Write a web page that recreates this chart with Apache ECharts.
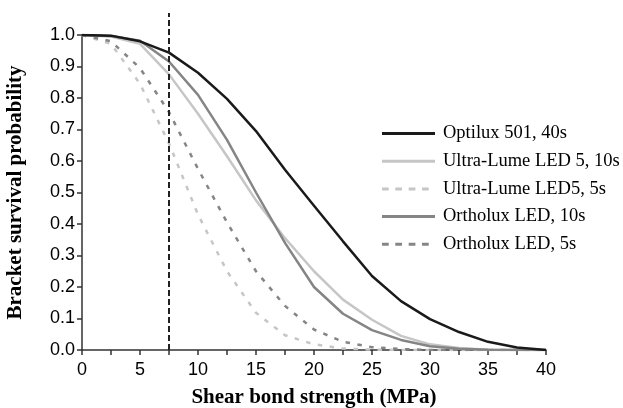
<!DOCTYPE html>
<html>
<head>
<meta charset="utf-8">
<script src="https://cdn.jsdelivr.net/npm/echarts@6/dist/echarts.min.js"></script>
<style>html,body{margin:0;padding:0;background:#fff;}#c{width:623px;height:408px;}</style>
</head>
<body>
<div id="c"></div>
<script>
var strength = [0, 2.5, 5, 7.5, 10, 12.5, 15, 17.5, 20, 22.5, 25, 27.5, 30, 32.5, 35, 37.5, 40];
var optilux40 = [1.0, 0.998, 0.98, 0.944, 0.88, 0.797, 0.695, 0.572, 0.458, 0.345, 0.235, 0.155, 0.098, 0.057, 0.026, 0.008, 0.0];
var ultraLume10 = [1.0, 0.995, 0.972, 0.875, 0.75, 0.615, 0.475, 0.355, 0.25, 0.16, 0.096, 0.045, 0.018, 0.006, 0.001, 0, 0];
var ultraLume5 = [1.0, 0.972, 0.845, 0.656, 0.43, 0.25, 0.118, 0.047, 0.018, 0.005, 0.001, 0, 0, 0, 0, 0, 0];
var ortholux10 = [1.0, 0.997, 0.982, 0.916, 0.81, 0.667, 0.50, 0.34, 0.2, 0.115, 0.063, 0.032, 0.012, 0.004, 0.001, 0, 0];
var ortholux5 = [1.0, 0.98, 0.895, 0.755, 0.575, 0.405, 0.25, 0.14, 0.065, 0.026, 0.009, 0.003, 0, 0, 0, 0, 0];
var thresholdX = 7.5;
var names = ['Optilux 501, 40s', 'Ultra-Lume LED 5, 10s', 'Ultra-Lume LED5, 5s', 'Ortholux LED, 10s', 'Ortholux LED, 5s'];

function pairs(ys) { return strength.map(function (x, i) { return [x, ys[i]]; }); }

var solidIcon = 'path://M0,0h53v3h-53z';
var dashIcon = 'path://M0,0h6.7v3h-6.7z M13.3,0h6.7v3h-6.7z M26.7,0h6.7v3h-6.7z M40,0h6.7v3h-6.7z M52.99,0h0.01v3h-0.01z';

var chart = echarts.init(document.getElementById('c'));
function mk(name, ys, color, dashed, z) {
  return {
    name: name, type: 'line', xAxisIndex: 0, yAxisIndex: 0,
    data: pairs(ys), symbol: 'none', z: z,
    lineStyle: { color: color, width: 2.5, type: dashed ? [4.5, 7.5] : 'solid' },
    itemStyle: { color: color }
  };
}
var legendData = names.map(function (n, i) {
  return { name: n, icon: (i === 2 || i === 4) ? dashIcon : solidIcon };
});
chart.setOption({
  animation: false,
  grid: [
    { left: 82, right: 77, top: 35, bottom: 58, outerBoundsMode: 'none', containLabel: false },
    { left: 82, right: 77, top: 13, bottom: 58, outerBoundsMode: 'none', containLabel: false }
  ],
  legend: {
    orient: 'vertical', left: 377, top: 119, itemWidth: 53, itemHeight: 3, itemGap: 8.7,
    data: legendData,
    textStyle: { fontFamily: 'Liberation Serif', fontSize: 18.5, lineHeight: 18, color: '#000', padding: [0, 0, 0, 3] }
  },
  xAxis: [{
    type: 'value', gridIndex: 0, min: 0, max: 40, interval: 2.5,
    name: 'Shear bond strength (MPa)', nameLocation: 'middle', nameGap: 37,
    nameTextStyle: { fontFamily: 'Liberation Serif', fontWeight: 'bold', fontSize: 21, color: '#000' },
    axisLine: { lineStyle: { color: '#333', width: 1.5 } },
    axisTick: { show: true, length: 5, lineStyle: { color: '#333', width: 1.5 } },
    axisLabel: { margin: 11, fontFamily: 'Liberation Sans', fontSize: 18, color: '#000',
      formatter: function (v) { return (v % 5 === 0) ? String(v) : ''; } },
    splitLine: { show: false }
  }, {
    type: 'value', gridIndex: 1, min: 0, max: 40, show: false
  }],
  yAxis: [{
    type: 'value', gridIndex: 0, min: 0, max: 1, interval: 0.1,
    name: 'Bracket survival probability', nameLocation: 'middle', nameGap: 56,
    nameTextStyle: { fontFamily: 'Liberation Serif', fontWeight: 'bold', fontSize: 21, color: '#000' },
    axisLine: { show: true, lineStyle: { color: '#333', width: 1.5 } },
    axisTick: { show: true, length: 5, lineStyle: { color: '#333', width: 1.5 } },
    axisLabel: { margin: 7, fontFamily: 'Liberation Sans', fontSize: 18, color: '#000',
      formatter: function (v) { return v.toFixed(1); } },
    splitLine: { show: false }
  }, {
    type: 'value', gridIndex: 1, min: 0, max: 1, show: false
  }],
  series: [
    mk(names[0], optilux40, '#1a1a1a', false, 5),
    mk(names[1], ultraLume10, '#c6c6c6', false, 3),
    mk(names[2], ultraLume5, '#c6c6c6', true, 2),
    mk(names[3], ortholux10, '#858585', false, 4),
    mk(names[4], ortholux5, '#858585', true, 2),
    {
      name: 'threshold', type: 'line', xAxisIndex: 1, yAxisIndex: 1, symbol: 'none', z: 6,
      data: [[thresholdX, 0], [thresholdX, 1]],
      lineStyle: { color: '#222', width: 2, type: [6, 3] }
    }
  ]
});
</script>
</body>
</html>
